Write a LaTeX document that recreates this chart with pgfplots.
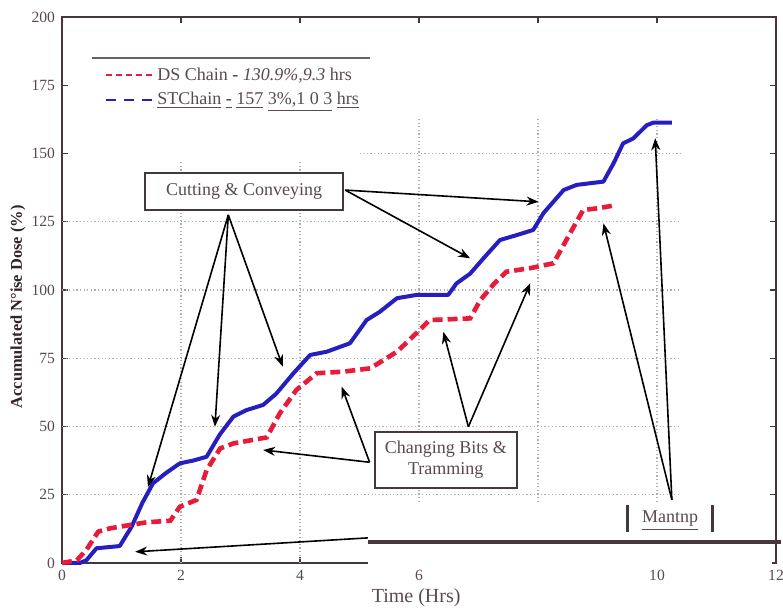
\documentclass[border=0pt]{standalone}
\usepackage{fontspec}
\setmainfont{Liberation Serif}
\usepackage{pgfplots}
\pgfplotsset{compat=1.18}
\usetikzlibrary{arrows.meta}
\definecolor{txt}{RGB}{90,72,82}
\definecolor{axc}{RGB}{70,55,62}
\definecolor{dsred}{RGB}{232,28,58}
\definecolor{stblue}{RGB}{38,30,190}
\definecolor{gridc}{RGB}{175,175,175}
\begin{document}
\begin{tikzpicture}[x=1pt,y=1pt]
\useasboundingbox (-31,-24) rectangle (360.5,281.5);
\begin{axis}[
  at={(0,0)}, anchor=south west,
  scale only axis, width=357pt, height=273pt,
  xmin=0, xmax=12, ymin=0, ymax=200,
  xtick={0,2,4,6,8,10,12}, xticklabels={0,2,4,6,,10,12},
  ytick={0,25,...,200},
  tick align=inside, major tick length=3pt,
  tick style={axc, line width=0.6pt},
  axis line style={axc, line width=1pt},
  ticklabel style={font=\fontsize{7.8}{8}\selectfont, text=txt},
  /pgf/number format/assume math mode=true,
  clip=false,
  xlabel={Time (Hrs)},
  xlabel style={font=\fontsize{10}{12}\selectfont, text=txt, at={(axis description cs:0.496,-0.064)}, anchor=center},
  ylabel={Accumulated N°ise Dose (\%)},
  ylabel style={font=\bfseries\fontsize{8.2}{10}\selectfont, text={rgb,255:red,50;green,35;blue,40}, at={(axis description cs:-0.0616,0.469)}, anchor=center, rotate=0},
  legend style={draw=none, fill=none, at={(axis cs:0.62,184.5)}, anchor=north west, font=\fontsize{9}{10}\selectfont, text=txt, row sep=0.5pt},
  legend cell align=left,
  legend image code/.code={\draw[#1] (0pt,0pt) -- (23pt,0pt);},
]
% grid
\begin{scope}[gridc, dash pattern=on 0.6pt off 1.2pt, line width=0.6pt]
\draw (axis cs:0,25) -- (axis cs:10.4,25);
\draw (axis cs:0,50) -- (axis cs:10.4,50);
\draw (axis cs:0,75) -- (axis cs:10.4,75);
\draw (axis cs:0,100) -- (axis cs:10.4,100);
\draw (axis cs:0,125) -- (axis cs:10.4,125);
\draw (axis cs:5.0,150) -- (axis cs:10.4,150);
\draw (axis cs:2,0) -- (axis cs:2,147);
\draw (axis cs:4,0) -- (axis cs:4,147);
\draw (axis cs:6,0) -- (axis cs:6,163);
\draw (axis cs:8,0) -- (axis cs:8,163);
\draw (axis cs:10,0) -- (axis cs:10,163);
\end{scope}

\addlegendimage{dsred, dash pattern=on 3pt off 2pt, line width=1pt}
\addlegendentry{DS Chain \textbf{-} \textit{130.9\%,9.3} hrs}
\addlegendimage{stblue, dash pattern=on 5pt off 4pt, line width=1pt}
\addlegendentry{\underline{STChain} \underline{\textbf{-}} \underline{157} \underline{3\%,1 0 3} \underline{hrs}}

\addplot[stblue, line width=2pt, line join=round, forget plot] coordinates {
(0,0) (0.3,0) (0.41,1) (0.58,5.4) (0.97,6.2) (1.17,13.3) (1.35,22) (1.53,29.2) (1.75,33) (1.98,36.5) (2.2,37.5) (2.43,38.9) (2.65,47) (2.88,53.6) (3.10,56) (3.38,57.9) (3.6,62) (3.89,69.5) (4.17,76.2) (4.45,77.4) (4.84,80.5) (5.12,89) (5.34,92) (5.63,97) (5.96,98.2) (6.49,98.2) (6.63,102.4) (6.86,106) (7.1,112) (7.36,118.3) (7.64,120.1) (7.92,122) (8.09,128.1) (8.43,136.6) (8.65,138.5) (9.10,139.7) (9.27,146.4) (9.43,153.7) (9.60,155.5) (9.83,160.4) (9.94,161.3) (10.25,161.3)
};
\addplot[dsred, line width=2.3pt, dash pattern=on 5pt off 2.5pt, forget plot] coordinates {
(0,0) (0.25,1) (0.41,4.8) (0.61,11.5) (0.81,12.7) (1.14,13.9) (1.42,14.9) (1.82,15.5) (1.98,20.6) (2.26,23.1) (2.43,34) (2.66,42) (2.88,43.8) (3.44,46) (3.66,54.8) (3.94,63.4) (4.28,69.5) (4.73,70.1) (5.18,71.3) (5.63,77.4) (5.9,83) (6.18,89) (6.86,89.6) (7.03,96.3) (7.25,102) (7.47,106.7) (7.87,108) (8.26,109.8) (8.54,120.8) (8.76,129.3) (8.99,129.9) (9.24,130.8)
};

% overlay patch at bottom right
\fill[white] (axis cs:5.14,-1.2) rectangle (axis cs:11.93,22.5);
\draw[axc, line width=2pt] (axis cs:5.14,7.7) -- (axis cs:12.08,7.7);
\draw[axc, line width=1.5pt] (axis cs:9.51,11.4) -- (axis cs:9.51,21.2);
\draw[axc, line width=1.5pt] (axis cs:10.94,11.4) -- (axis cs:10.94,21.2);
\node[text=txt, font=\fontsize{9}{10}\selectfont] at (axis cs:10.22,15.4) {\underline{Mantnp}};

% legend top rule
\draw[axc!80, line width=0.8pt] (axis cs:0.5,185) -- (axis cs:5.17,185);
% top border heavier
\draw[axc, line width=1.4pt] (axis cs:0,200) -- (axis cs:12,200);

% annotation boxes
\node[draw=axc, line width=0.8pt, fill=white, text=txt, minimum width=99pt, minimum height=18.5pt, inner sep=1pt, font=\fontsize{9}{10}\selectfont] at (axis cs:3.06,136.1) {Cutting \& Conveying};
\node[draw=axc, line width=0.8pt, fill=white, text=txt, minimum width=71pt, minimum height=28pt, inner sep=1pt, align=center, font=\fontsize{9}{10.5}\selectfont] at (axis cs:6.45,37.7) {Changing Bits \&\\Tramming};

% arrows
\begin{scope}[black, line width=0.8pt, -{Stealth[length=6pt,width=4.5pt]}]
\draw (axis cs:2.795,127.5) -- (axis cs:1.445,27.8);
\draw (axis cs:2.795,127.5) -- (axis cs:2.57,49.9);
\draw (axis cs:2.795,127.5) -- (axis cs:3.71,71.9);
\draw (axis cs:4.76,136.6) -- (axis cs:8.01,132.3);
\draw (axis cs:4.76,136.6) -- (axis cs:6.86,111.6);
\draw (axis cs:5.17,36.9) -- (axis cs:3.38,41.4);
\draw (axis cs:5.17,36.9) -- (axis cs:4.70,64.6);
\draw (axis cs:6.83,49.9) -- (axis cs:6.41,84.7);
\draw (axis cs:6.83,49.9) -- (axis cs:7.87,102.5);
\draw (axis cs:10.25,23.1) -- (axis cs:9.10,124.4);
\draw (axis cs:10.25,23.1) -- (axis cs:9.97,155.6);
\draw (axis cs:5.14,9.2) -- (axis cs:1.23,4.1);
\end{scope}
\end{axis}
\end{tikzpicture}
\end{document}
